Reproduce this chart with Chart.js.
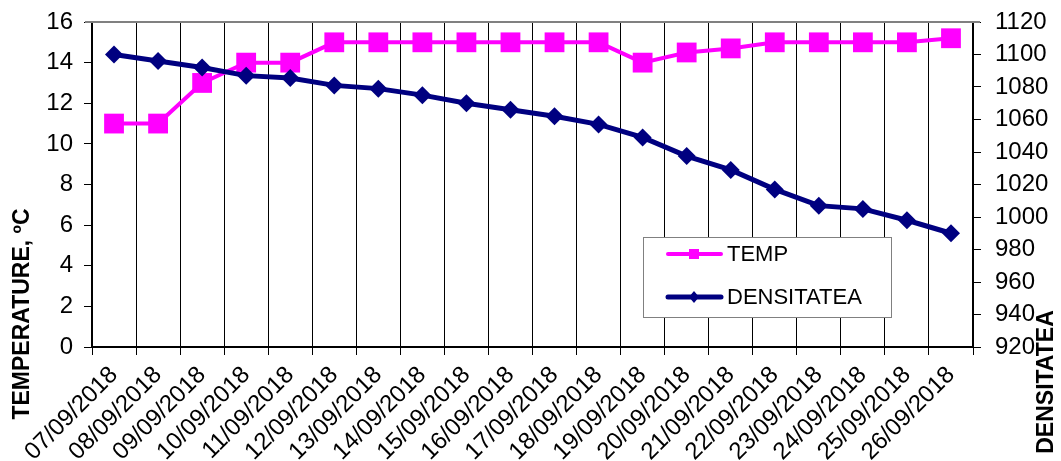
<!DOCTYPE html>
<html lang="ro">
<head>
    <meta charset="UTF-8">
    <title>Temperatura si densitatea</title>
    <script src="https://cdn.jsdelivr.net/npm/chart.js"></script>
    <style>
        body{margin:0; background:#fff;}
        #wrap{width:1061px; height:461px; position:relative;}
    </style>
</head>
<body>
    <div id="wrap">
        <canvas id="myChart"></canvas>
    </div>

    <script>
        // date (zile)
        const labels_list = ['07/09/2018','08/09/2018','09/09/2018','10/09/2018','11/09/2018','12/09/2018',
            '13/09/2018','14/09/2018','15/09/2018','16/09/2018','17/09/2018','18/09/2018','19/09/2018',
            '20/09/2018','21/09/2018','22/09/2018','23/09/2018','24/09/2018','25/09/2018','26/09/2018'];
        // temperatura, ºC
        const temp_list = [11, 11, 13, 14, 14, 15, 15, 15, 15, 15, 15, 15, 14, 14.5, 14.7, 15, 15, 15, 15, 15.2];
        // densitatea
        const dens_list = [1100, 1096, 1092, 1087, 1085.5, 1081, 1079, 1075, 1070, 1066, 1062, 1057, 1049,
            1037.5, 1029, 1017, 1007, 1005, 998, 990];
        const temp_ticks = {min: 0, max: 16, step: 2};
        const dens_ticks = {min: 920, max: 1120, step: 20};

        const FONT = "'Liberation Sans', Arial, sans-serif";
        const PINK = '#ff00ff';
        const NAVY = '#000080';

        // chenar sus + titluri axe + legenda in interior
        const extras = {
            id: 'extras',
            afterDraw(chart){
                const c = chart.ctx;
                const a = chart.chartArea;
                c.save();
                // linia de sus (gri)
                c.strokeStyle = '#808080';
                c.lineWidth = 2;
                c.beginPath();
                c.moveTo(a.left - 7, a.top);
                c.lineTo(a.right + 7, a.top);
                c.stroke();

                // titluri axe
                c.fillStyle = '#000';
                c.font = 'bold 23px ' + FONT;
                c.textAlign = 'center';
                c.textBaseline = 'middle';
                c.save();
                c.translate(23, 314);
                c.rotate(-Math.PI / 2);
                c.fillText('TEMPERATURE, ºC', 0, 0);
                c.restore();
                c.save();
                c.translate(1047, 382);
                c.rotate(-Math.PI / 2);
                c.fillText('DENSITATEA', 0, 0);
                c.restore();

                // legenda
                const lx = 643, ly = 237, lw = 248, lh = 80;
                c.fillStyle = '#fff';
                c.fillRect(lx, ly, lw, lh);
                c.strokeStyle = '#808080';
                c.lineWidth = 1;
                c.strokeRect(lx + 0.5, ly + 0.5, lw, lh);

                c.lineCap = 'round';
                c.lineWidth = 4;
                c.strokeStyle = PINK;
                c.beginPath(); c.moveTo(lx + 25, ly + 17); c.lineTo(lx + 78, ly + 17); c.stroke();
                c.fillStyle = PINK;
                c.fillRect(lx + 46, ly + 12, 10, 10);

                c.lineWidth = 5;
                c.strokeStyle = NAVY;
                c.beginPath(); c.moveTo(lx + 25, ly + 60); c.lineTo(lx + 78, ly + 60); c.stroke();
                c.fillStyle = NAVY;
                c.beginPath();
                c.moveTo(lx + 51, ly + 54); c.lineTo(lx + 56, ly + 60);
                c.lineTo(lx + 51, ly + 66); c.lineTo(lx + 46, ly + 60);
                c.closePath(); c.fill();

                c.fillStyle = '#000';
                c.font = '22px ' + FONT;
                c.textAlign = 'left';
                c.fillText('TEMP', lx + 84, ly + 18);
                c.fillText('DENSITATEA', lx + 84, ly + 61);
                c.restore();
            }
        };

        const ctx = document.getElementById('myChart');
        let configs = {
            type: 'line',
            data: {
                labels: labels_list,
                datasets: [
                    {label: 'TEMP', data: temp_list, yAxisID: 'y', order: 2,
                     borderColor: PINK, backgroundColor: PINK, borderWidth: 4,
                     pointStyle: 'rect', pointRadius: 14, pointHoverRadius: 14, pointBorderWidth: 0},
                    {label: 'DENSITATEA', data: dens_list, yAxisID: 'y1', order: 1,
                     borderColor: NAVY, backgroundColor: NAVY, borderWidth: 5,
                     pointStyle: 'rectRot', pointRadius: 9, pointHoverRadius: 9, pointBorderWidth: 0}
                ]
            },
            options: {
                responsive: true,
                maintainAspectRatio: false,
                animation: false,
                layout: {padding: {left: 0, right: 0, top: 22, bottom: 0}},
                elements: {line: {tension: 0}},
                plugins: {legend: {display: false}, tooltip: {enabled: false}},
                scales: {
                    x: {
                        offset: true,
                        grid: {offset: true, color: '#000', lineWidth: 1, tickLength: 8, drawOnChartArea: true},
                        border: {color: '#000', width: 2},
                        ticks: {color: '#000', font: {family: FONT, size: 24}, minRotation: 45, maxRotation: 45,
                                autoSkip: false, padding: 6},
                        afterFit(s){ s.height = 114; }
                    },
                    y: {
                        position: 'left',
                        min: temp_ticks.min, max: temp_ticks.max,
                        grid: {drawOnChartArea: false, color: '#000', tickLength: 8},
                        border: {color: '#000', width: 2},
                        ticks: {stepSize: temp_ticks.step, color: '#000', font: {family: FONT, size: 24}, padding: 11},
                        afterFit(s){ s.width = 92; s.paddingTop = 0; s.paddingBottom = 0; }
                    },
                    y1: {
                        position: 'right',
                        min: dens_ticks.min, max: dens_ticks.max,
                        grid: {drawOnChartArea: false, color: '#000', tickLength: 8},
                        border: {color: '#000', width: 2},
                        ticks: {stepSize: dens_ticks.step, color: '#000', font: {family: FONT, size: 24}, padding: 14,
                                callback: v => String(v)},
                        afterFit(s){ s.width = 88; s.paddingTop = 0; s.paddingBottom = 0; }
                    }
                }
            },
            plugins: [extras]
        };
        let myChart = new Chart(ctx, configs);
    </script>
</body>
</html>
